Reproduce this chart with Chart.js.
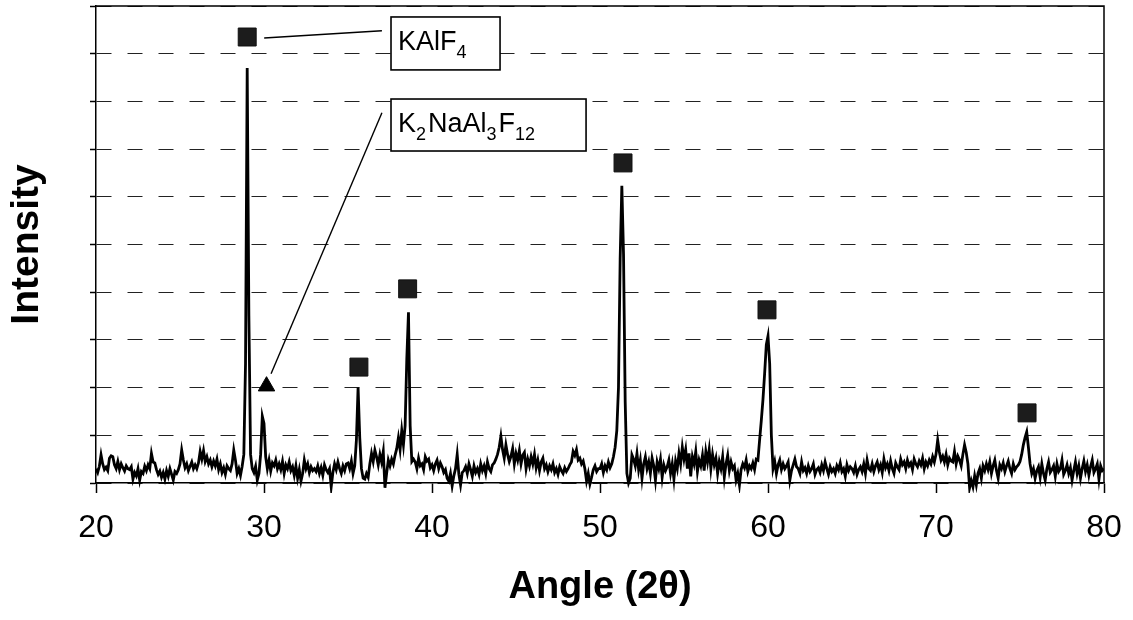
<!DOCTYPE html>
<html><head><meta charset="utf-8">
<script src="https://cdn.jsdelivr.net/npm/chart.js@4.4.1/dist/chart.umd.min.js"></script>
<style>html,body{margin:0;padding:0;background:#fff}#wrap{width:1133px;height:620px}</style>
</head><body><div id="wrap"><canvas id="c" width="1133" height="620"></canvas></div>
<script>
// XRD scan: start angle and instrument step (2θ, degrees)
const scanStart = 20;
const scanStep = 0.1;
// counts, one row per degree (20.0 ... 79.9, then 80.0)
const counts = [
 30,22,35,59,40,28,33,26,52,57,
 55,38,30,45,28,40,32,25,36,30,
 28,34,8,22,15,30,6,24,20,35,
 26,38,30,62,44,42,28,18,25,12,
 22,8,26,14,30,18,6,24,20,28,
 40,69,48,32,40,26,35,44,30,38,
 30,42,66,50,68,45,55,40,48,34,
 46,36,50,28,40,22,32,18,36,30,
 26,40,69,48,20,30,16,35,60,250,
 870,350,60,30,22,35,6,20,60,140,
 125,55,30,48,25,42,36,48,30,40,
 28,45,20,38,30,44,26,34,16,36,
 10,28,4,20,48,30,40,22,34,26,
 30,24,36,20,32,16,38,28,22,30,
 -8,22,40,28,44,30,20,36,26,40,
 42,30,46,20,36,90,200,95,30,10,
 8,20,12,40,62,45,69,55,38,60,
 44,66,-10,20,48,36,50,40,58,72,
 95,70,110,80,120,260,358,120,45,50,
 44,30,52,36,40,28,55,46,50,32,
 38,26,40,48,30,42,34,22,28,10,
 4,20,-6,15,30,60,18,-4,22,26,
 34,20,40,28,14,36,22,30,18,40,
 26,36,20,44,30,24,38,42,50,60,
 75,98,70,52,80,60,45,56,72,40,
 62,48,68,40,58,64,30,50,36,55,
 40,60,32,48,26,44,52,30,38,24,
 36,28,40,22,30,18,34,26,20,32,
 24,30,38,44,66,58,70,48,52,40,
 46,30,4,20,-2,12,28,36,24,30,
 30,40,22,36,28,44,32,40,55,75,
 110,200,470,623,480,170,20,0,10,59,
 50,36,62,28,48,10,40,55,30,44,
 20,52,36,6,44,30,50,12,38,26,
 34,48,20,40,8,46,30,62,40,75,
 50,70,30,62,14,55,40,66,24,48,
 36,58,26,66,44,70,30,60,38,52,
 20,45,30,55,12,40,58,26,44,30,
 36,6,20,-4,28,40,32,48,24,36,
 30,42,28,50,48,90,130,175,230,290,
 308,250,100,30,45,20,38,48,28,40,
 30,36,44,6,26,38,50,34,30,20,
 44,26,32,20,36,24,30,40,18,28,
 32,22,38,26,44,30,18,34,24,30,
 20,36,28,42,24,30,14,38,26,34,
 30,22,36,18,28,34,24,40,20,48,
 30,26,40,24,36,44,28,38,22,50,
 32,40,26,46,30,20,42,34,28,50,
 38,44,30,48,36,42,28,50,40,34,
 46,38,52,30,44,36,48,40,55,44,
 60,90,65,48,56,44,60,38,52,46,
 44,66,40,56,48,36,60,80,64,40,
 -10,5,-8,15,-4,20,30,10,36,26,
 40,28,44,20,36,48,26,10,38,30,
 42,24,36,46,30,20,40,28,34,38,
 45,60,80,95,107,75,40,20,30,10,
 26,34,12,40,20,6,30,44,22,28,
 36,14,40,24,30,48,18,26,38,20,
 32,6,26,44,20,36,10,30,46,24,
 38,16,34,48,22,30,40,8,36,26,
 30
];
const xTickValues = [20, 30, 40, 50, 60, 70, 80];
const yMin = 0, yMax = 1000, yStep = 100;
// phase markers (angle, intensity)
const kalf4Angles = [29.0, 35.65, 38.55, 51.37, 59.94, 75.42];
const kalf4Heights = [935, 243, 407, 671, 363, 147];
const k2naAngles = [30.15];
const k2naHeights = [203];
// callout boxes in data coordinates
const callouts = [
  {parts: [['KAlF', 'n'], ['4', 's']], box: [37.56, 977, 44.05, 866], leader: [[37.02, 948], [30.01, 933]]},
  {parts: [['K', 'n'], ['2', 's'], ['NaAl', 'n'], ['3', 's'], ['F', 'n'], ['12', 's']], box: [37.56, 805, 49.17, 696], leader: [[37.02, 776], [30.42, 229]]}
];

const FONT = '"Liberation Sans", Arial, Helvetica, sans-serif';
const spectrum = counts.map((c, i) => ({x: +(scanStart + i * scanStep).toFixed(2), y: c}));
const toPts = (xs, ys) => xs.map((a, i) => ({x: a, y: ys[i]}));

const framePlugin = {
  id: 'frame',
  beforeDatasetsDraw(chart) {
    const {ctx, chartArea: a} = chart;
    ctx.save();
    ctx.strokeStyle = '#000';
    ctx.lineWidth = 1.5;
    ctx.beginPath();
    ctx.moveTo(a.left, a.top); ctx.lineTo(a.right, a.top); ctx.lineTo(a.right, a.bottom);
    ctx.stroke();
    ctx.restore();
  },
  afterDatasetsDraw(chart) {
    const {ctx, scales: {x, y}} = chart;
    ctx.save();
    callouts.forEach(c => {
      ctx.strokeStyle = '#000';
      ctx.lineWidth = 1.4;
      ctx.beginPath();
      ctx.moveTo(x.getPixelForValue(c.leader[0][0]), y.getPixelForValue(c.leader[0][1]));
      ctx.lineTo(x.getPixelForValue(c.leader[1][0]), y.getPixelForValue(c.leader[1][1]));
      ctx.stroke();
      const L = x.getPixelForValue(c.box[0]), T = y.getPixelForValue(c.box[1]);
      const R = x.getPixelForValue(c.box[2]), B = y.getPixelForValue(c.box[3]);
      ctx.fillStyle = '#fff';
      ctx.fillRect(L, T, R - L, B - T);
      ctx.lineWidth = 1.6;
      ctx.strokeRect(L, T, R - L, B - T);
      let cx = L + 7;
      const base = T + 33;
      ctx.fillStyle = '#000';
      ctx.textBaseline = 'alphabetic';
      c.parts.forEach(([t, k]) => {
        ctx.font = (k === 's' ? '18px ' : '27px ') + FONT;
        ctx.fillText(t, cx, k === 's' ? base + 8 : base);
        cx += ctx.measureText(t).width + (k === 's' ? 2 : 0);
      });
    });
    ctx.restore();
  }
};

new Chart(document.getElementById('c'), {
  type: 'line',
  data: {
    datasets: [
      {label: 'scan', data: spectrum, borderColor: '#000', borderWidth: 2.8, pointRadius: 0, tension: 0,
       clip: {left: 0, top: 0, right: 0, bottom: 10}, order: 2},
      {label: 'KAlF4', data: toPts(kalf4Angles, kalf4Heights), showLine: false, pointStyle: 'rect',
       pointRadius: 12.7, backgroundColor: '#1c1c1c', borderColor: '#111', borderWidth: 1, order: 1},
      {label: 'K2NaAl3F12', data: toPts(k2naAngles, k2naHeights), showLine: false, pointStyle: 'triangle',
       pointRadius: 9.5, backgroundColor: '#000', borderColor: '#000', borderWidth: 1, order: 1}
    ]
  },
  options: {
    responsive: false,
    animation: false,
    devicePixelRatio: 1,
    layout: {autoPadding: false, padding: {top: 6, right: 29, left: 0, bottom: 0}},
    plugins: {legend: {display: false}, tooltip: {enabled: false}},
    scales: {
      x: {
        type: 'linear', min: 20, max: 80,
        afterBuildTicks: s => { s.ticks = xTickValues.map(v => ({value: v})); },
        afterFit: s => { s.height = 137; s.paddingLeft = 20; s.paddingRight = 20; },
        ticks: {color: '#000', font: {family: FONT, size: 32}, padding: 16, maxRotation: 0, autoSkip: false},
        grid: {drawOnChartArea: false, drawTicks: true, tickLength: 10, tickColor: '#000', tickWidth: 1.5},
        border: {display: true, color: '#000', width: 1.5},
        title: {display: true, text: 'Angle (2θ)', color: '#000', font: {family: FONT, size: 38, weight: 'bold'},
                padding: {top: 0, bottom: 10}}
      },
      y: {
        min: yMin, max: yMax,
        afterFit: s => { s.width = 96; },
        ticks: {display: false, stepSize: yStep},
        grid: {drawOnChartArea: true, color: '#222', lineWidth: 1, drawTicks: true, tickLength: 6,
               tickColor: '#000', tickWidth: 1.5, tickBorderDash: []},
        border: {display: true, color: '#000', width: 1.5, dash: [15, 16]},
        title: {display: true, text: 'Intensity', color: '#000', font: {family: FONT, size: 39, weight: 'bold'},
                padding: {top: 4, bottom: 0}}
      }
    }
  },
  plugins: [framePlugin]
});
</script></body></html>
